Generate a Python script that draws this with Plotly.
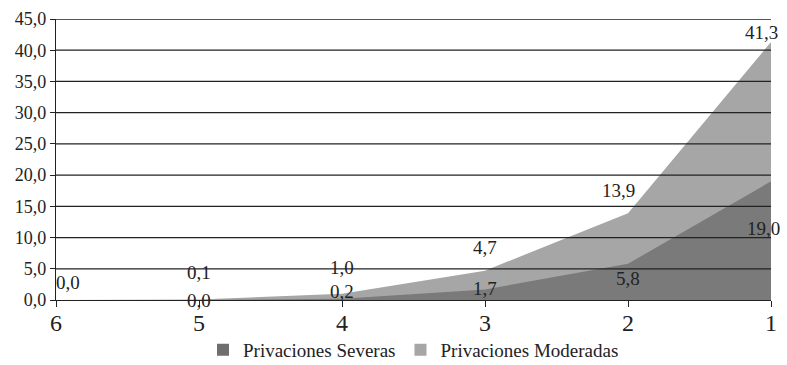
import plotly.graph_objects as go

categories = ["6", "5", "4", "3", "2", "1"]
severas = [0.0, 0.0, 0.2, 1.7, 5.8, 19.0]
moderadas = [0.0, 0.1, 1.0, 4.7, 13.9, 41.3]
y_ticks = [0, 5, 10, 15, 20, 25, 30, 35, 40, 45]

SEV_COLOR = "#7a7a7a"
MOD_COLOR = "#a6a6a6"
FAM = "'Liberation Serif', 'Times New Roman', Times, serif"

def fmt(v):
    return f"{v:.1f}".replace(".", ",")

fig = go.Figure()
fig.add_trace(go.Scatter(x=categories, y=moderadas, name="Privaciones Moderadas",
                         mode="lines", fill="tozeroy", line=dict(width=0, color=MOD_COLOR),
                         fillcolor=MOD_COLOR, showlegend=False, hoverinfo="skip"))
fig.add_trace(go.Scatter(x=categories, y=severas, name="Privaciones Severas",
                         mode="lines", fill="tozeroy", line=dict(width=0, color=SEV_COLOR),
                         fillcolor=SEV_COLOR, showlegend=False, hoverinfo="skip"))
# legend swatches
fig.add_trace(go.Scatter(x=[None], y=[None], mode="markers", name="Privaciones Severas",
                         marker=dict(symbol="square", size=12, color="#6e6e6e")))
fig.add_trace(go.Scatter(x=[None], y=[None], mode="markers", name="Privaciones Moderadas",
                         marker=dict(symbol="square", size=12, color=MOD_COLOR)))

# gridlines drawn above the areas
for t in y_ticks[1:]:
    fig.add_shape(type="line", xref="paper", x0=0, x1=1, yref="y", y0=t, y1=t,
                  line=dict(color="#222", width=1.3), layer="above")

font_lbl = dict(family=FAM, size=19, color="#222")
mod_shift = [(12, 18), (0, 27), (0, 26), (0, 23), (-10, 23), (-10, 10)]
sev_shift = [None, (0, 0), (0, 7), (0, 1), (0, -15), (-8, -47)]
for i in range(len(categories)):
    dx, dy = mod_shift[i]
    fig.add_annotation(x=i, y=moderadas[i], text=fmt(moderadas[i]), showarrow=False,
                       xshift=dx, yshift=dy, font=font_lbl)
    if sev_shift[i] is not None:
        dx, dy = sev_shift[i]
        fig.add_annotation(x=i, y=severas[i], text=fmt(severas[i]), showarrow=False,
                           xshift=dx, yshift=dy, font=font_lbl)

fig.update_layout(
    width=787, height=365,
    margin=dict(l=56, r=16, t=19, b=65, autoexpand=False),
    plot_bgcolor="white", paper_bgcolor="white",
    separators=",.",
    font=dict(family=FAM, color="#222"),
    showlegend=True,
    legend=dict(orientation="h", x=0.5, xanchor="center", y=-0.11, yanchor="top",
                font=dict(size=19, family=FAM, color="#222"),
                itemwidth=30, traceorder="normal"),
    xaxis=dict(type="category", range=[0, 5], showgrid=False, showline=True,
               linecolor="#222", linewidth=1.3, ticks="outside", ticklen=6,
               tickcolor="#222", tickfont=dict(size=24, family=FAM),
               ticklabelstandoff=-5, layer="above traces"),
    yaxis=dict(range=[0, 45], tickvals=y_ticks, tickformat=".1f", showgrid=False,
               showline=True, linecolor="#222", linewidth=1.3, ticks="outside",
               ticklen=5, tickcolor="#222", zeroline=False,
               tickfont=dict(size=18, family=FAM), layer="above traces"),
)

fig.write_html("out.html", config={"displayModeBar": False},
               post_script="document.body.style.margin='0';document.body.style.padding='0';")
